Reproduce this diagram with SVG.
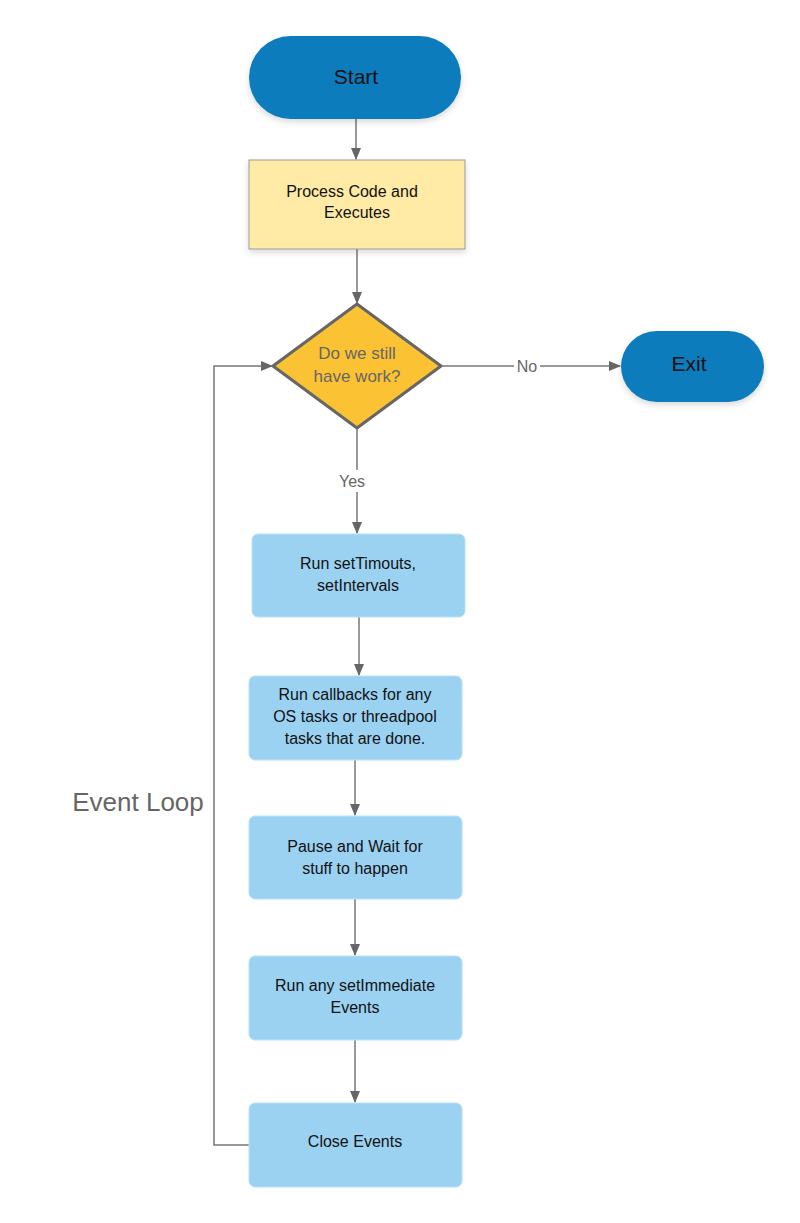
<svg xmlns="http://www.w3.org/2000/svg" width="800" height="1223" viewBox="0 0 800 1223">
<defs>
<marker id="ar" markerWidth="12" markerHeight="10" refX="11" refY="5" orient="auto" markerUnits="userSpaceOnUse"><path d="M0,0 L12,5 L0,10 Z" fill="#666"/></marker>
<filter id="sh" x="-10%" y="-10%" width="130%" height="140%"><feDropShadow dx="0" dy="3" stdDeviation="3" flood-color="#000" flood-opacity="0.15"/></filter>
</defs>
<style>
text{font-family:"Liberation Sans",Arial,sans-serif;text-anchor:middle}
.t{font-size:16px;fill:#111}
.term{fill:#0F7CBD;filter:url(#sh)}
.blue{fill:#9BD2F2;stroke:#B8E0F5;stroke-width:1}
.c{fill:none;stroke:#777;stroke-width:1.5}
.lbl{font-size:16px;fill:#666}
</style>
<rect width="800" height="1223" fill="#fff"/>
<g id="connectors">
<line class="c" x1="356" y1="119" x2="356" y2="159" marker-end="url(#ar)"/>
<line class="c" x1="357" y1="249" x2="357" y2="303" marker-end="url(#ar)"/>
<line class="c" x1="441" y1="366" x2="620" y2="366" marker-end="url(#ar)"/>
<rect x="514" y="356" width="26" height="20" fill="#fff"/>
<text class="lbl" x="527" y="372">No</text>
<line class="c" x1="357" y1="428" x2="357" y2="533" marker-end="url(#ar)"/>
<rect x="334" y="470" width="38" height="22" fill="#fff"/>
<text class="lbl" x="352" y="487">Yes</text>
<line class="c" x1="359" y1="617" x2="359" y2="675" marker-end="url(#ar)"/>
<line class="c" x1="355" y1="760" x2="355" y2="815" marker-end="url(#ar)"/>
<line class="c" x1="355" y1="899" x2="355" y2="955" marker-end="url(#ar)"/>
<line class="c" x1="355" y1="1040" x2="355" y2="1102" marker-end="url(#ar)"/>
<polyline class="c" points="249,1145 214,1145 214,366 272,366" marker-end="url(#ar)"/>
</g>
<text x="138" y="811" style="font-size:26px;fill:#666">Event Loop</text>
<g id="start"><rect class="term" x="249" y="36" width="212" height="83" rx="41.5"/><text x="356" y="84" style="font-size:21px;fill:#111">Start</text></g>
<g id="process"><rect x="249" y="160" width="216" height="89" fill="#FFEBA6" stroke="#999" stroke-width="1" filter="url(#sh)"/><text class="t" x="352" y="197">Process Code and</text><text class="t" x="357" y="218">Executes</text></g>
<g id="decision"><polygon points="357,304 441,366 357,428 273,366" fill="#FBC234" stroke="#666" stroke-width="3" stroke-linejoin="round"/><text x="357" y="359" style="font-size:17px;fill:#666">Do we still</text><text x="357" y="382" style="font-size:17px;fill:#666">have work?</text></g>
<g id="exit"><rect class="term" x="621" y="331" width="143" height="71" rx="35.5"/><text x="689" y="371" style="font-size:21px;fill:#111">Exit</text></g>
<g id="timeouts"><rect class="blue" x="252" y="534" width="213" height="83" rx="6"/><text class="t" x="358" y="569">Run setTimouts,</text><text class="t" x="358" y="591">setIntervals</text></g>
<g id="callbacks"><rect class="blue" x="249" y="676" width="213" height="84" rx="6"/><text class="t" x="355" y="700">Run callbacks for any</text><text class="t" x="355" y="722">OS tasks or threadpool</text><text class="t" x="355" y="744">tasks that are done.</text></g>
<g id="pause"><rect class="blue" x="249" y="816" width="213" height="83" rx="6"/><text class="t" x="355" y="852">Pause and Wait for</text><text class="t" x="355" y="874">stuff to happen</text></g>
<g id="immediate"><rect class="blue" x="249" y="956" width="213" height="84" rx="6"/><text class="t" x="355" y="991">Run any setImmediate</text><text class="t" x="355" y="1013">Events</text></g>
<g id="close"><rect class="blue" x="249" y="1103" width="213" height="84" rx="6"/><text class="t" x="355" y="1147">Close Events</text></g>
</svg>
